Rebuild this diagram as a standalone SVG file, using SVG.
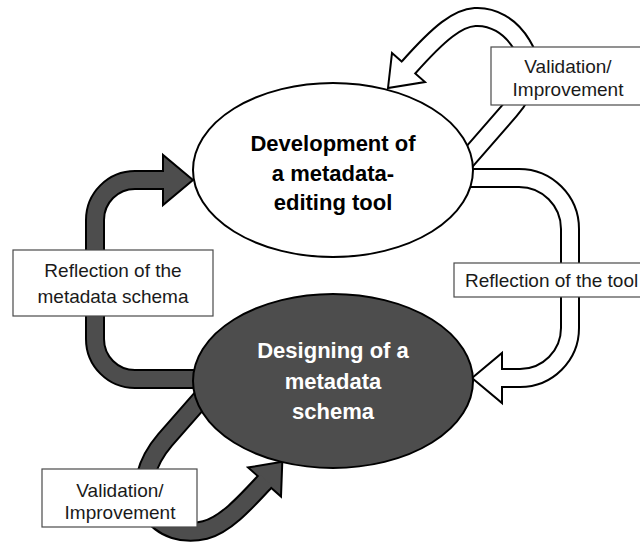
<svg xmlns="http://www.w3.org/2000/svg" xmlns:xlink="http://www.w3.org/1999/xlink" width="640" height="542" viewBox="0 0 640 542">
<style>
.band-out{fill:none;stroke:#000;stroke-width:20;stroke-linejoin:round}
.band-in-w{fill:none;stroke:#fff;stroke-width:16;stroke-linejoin:round}
.band-in-d{fill:none;stroke:#4d4d4d;stroke-width:16;stroke-linejoin:round}
.head-w{fill:#fff;stroke:#000;stroke-width:2;stroke-linejoin:miter}
.head-d{fill:#4d4d4d;stroke:#000;stroke-width:2;stroke-linejoin:miter}
.label rect{fill:#fff;stroke:#4a4a4a;stroke-width:1.2}
.label text{font-family:"Liberation Sans",Arial,sans-serif;font-size:19px;fill:#1a1a1a;text-anchor:middle}
.title{font-family:"Liberation Sans",Arial,sans-serif;font-size:22px;font-weight:bold;text-anchor:middle}
</style>
<defs>
<path id="p-tr" d="M 456,172 L 510,110 C 525,93 535,65 522,45 C 510,25 492,16 475,17 C 458,18 440,32 408.5,67.5 L 407,69"/>
<path id="p-r" d="M 460,178 L 519,178 A 51 51 0 0 1 570,229 L 570,328 A 50 50 0 0 1 520,378 L 500,378"/>
<path id="p-l" d="M 215,379 L 135,379 A 40 40 0 0 1 95,339 L 95,220 A 40 40 0 0 1 135,180 L 165,180"/>
<path id="p-bl" d="M 215,383 L 165,440 C 147,461 137,490 150,510 C 162,530 185,535 205,530 C 225,525 245,503 264.5,482 L 266,480.3"/>
</defs>
<g id="connectors">
  <g id="arrow-validation-top">
    <use xlink:href="#p-tr" class="band-out"/>
    <polygon class="head-w" points="388,88 392,53 425,82"/>
    <use xlink:href="#p-tr" class="band-in-w"/>
  </g>
  <g id="arrow-reflection-tool">
    <use xlink:href="#p-r" class="band-out"/>
    <polygon class="head-w" points="472,378 502,353 502,403"/>
    <use xlink:href="#p-r" class="band-in-w"/>
  </g>
  <g id="arrow-reflection-schema">
    <use xlink:href="#p-l" class="band-out"/>
    <polygon class="head-d" points="193,180 163,155 163,205"/>
    <use xlink:href="#p-l" class="band-in-d"/>
  </g>
  <g id="arrow-validation-bottom">
    <use xlink:href="#p-bl" class="band-out"/>
    <polygon class="head-d" points="282.3,461.7 248,467.5 281,496.5"/>
    <use xlink:href="#p-bl" class="band-in-d"/>
  </g>
</g>
<g id="node-development">
  <ellipse cx="333" cy="170" rx="140" ry="87" fill="#fff" stroke="#000" stroke-width="2"/>
  <text class="title" x="333" y="151" fill="#000">Development of</text>
  <text class="title" x="333" y="181" fill="#000">a metadata-</text>
  <text class="title" x="333" y="210" fill="#000">editing tool</text>
</g>
<g id="node-designing">
  <ellipse cx="333" cy="381" rx="140" ry="87" fill="#4d4d4d" stroke="#000" stroke-width="2"/>
  <text class="title" x="333" y="358" fill="#fff">Designing of a</text>
  <text class="title" x="333" y="389" fill="#fff">metadata</text>
  <text class="title" x="333" y="419" fill="#fff">schema</text>
</g>
<g id="label-validation-top" class="label">
  <rect x="491" y="47" width="160" height="58"/>
  <text x="568" y="73">Validation/</text>
  <text x="568" y="96">Improvement</text>
</g>
<g id="label-reflection-tool" class="label">
  <rect x="454" y="263" width="200" height="34"/>
  <text x="465" y="287" style="text-anchor:start">Reflection of the tool</text>
</g>
<g id="label-reflection-schema" class="label">
  <rect x="13" y="250" width="200" height="66"/>
  <text x="113" y="277">Reflection of the</text>
  <text x="113" y="303">metadata schema</text>
</g>
<g id="label-validation-bottom" class="label">
  <rect x="42" y="469" width="155" height="58"/>
  <text x="120" y="497">Validation/</text>
  <text x="120" y="519">Improvement</text>
</g>
</svg>
